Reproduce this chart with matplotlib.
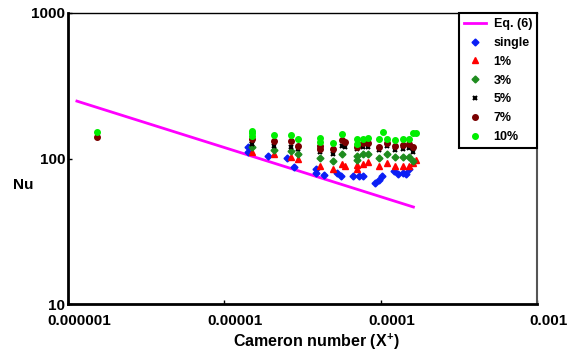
import numpy as np
import matplotlib
matplotlib.use("Agg")
import matplotlib.pyplot as plt
from matplotlib.transforms import ScaledTranslation

plt.rcParams['font.family'] = ['Liberation Sans', 'DejaVu Sans']
plt.rcParams['font.weight'] = 'bold'
plt.rcParams['mathtext.fontset'] = 'custom'
plt.rcParams['mathtext.rm'] = 'Liberation Sans:bold'
plt.rcParams['mathtext.bf'] = 'Liberation Sans:bold'

# Eq. (6) line endpoints
eq_x = [1.14e-6, 1.62e-4]
eq_y = [248, 46.4]

# single
single_x = [1.42e-5, 1.42e-5, 1.90e-5, 2.50e-5, 2.79e-5, 3.88e-5, 3.88e-5, 4.34e-5,
            5.25e-5, 5.56e-5, 6.70e-5, 7.24e-5, 7.76e-5, 9.16e-5, 9.71e-5, 1.026e-4,
            1.21e-4, 1.29e-4, 1.39e-4, 1.45e-4, 1.52e-4]
single_y = [119.9, 110.8, 104.5, 100.8, 87.7, 84.7, 80.1, 76.6,
            80.1, 76.3, 75.8, 75.8, 75.8, 67.9, 71.2, 76.3,
            82.1, 78.3, 80.1, 78.3, 84.3]

# 1%
p1_x = [1.51e-5, 2.08e-5, 2.65e-5, 2.96e-5, 4.12e-5, 4.94e-5, 5.62e-5, 5.94e-5,
        7.08e-5, 7.08e-5, 7.67e-5, 8.31e-5, 9.79e-5, 1.10e-4, 1.236e-4, 1.39e-4,
        1.52e-4, 1.60e-4, 1.69e-4]
p1_y = [110.8, 107.4, 103, 99.2, 89.5, 84.3, 91.6, 89.5,
        90.5, 85.1, 91.6, 94.2, 88.8, 93.1, 88.8, 89.5,
        89.5, 93.1, 97.7]

# 3%
p3_x = [1.51e-5, 2.08e-5, 2.65e-5, 2.96e-5, 4.12e-5, 4.94e-5, 5.62e-5,
        7.08e-5, 7.08e-5, 7.67e-5, 8.31e-5, 9.79e-5, 1.10e-4, 1.236e-4, 1.39e-4,
        1.52e-4, 1.60e-4]
p3_y = [119.9, 114.4, 112.6, 108.2, 100.8, 96.4, 107.4,
        104, 97.6, 108.2, 108.2, 100.8, 108.2, 102.4, 103,
        103, 96.1]

# 5%
p5_x = [1.51e-5, 1.51e-5, 2.08e-5, 2.65e-5, 2.96e-5, 4.12e-5, 4.12e-5, 4.94e-5,
        5.62e-5, 5.94e-5, 7.08e-5, 7.67e-5, 8.31e-5, 9.79e-5, 1.10e-4, 1.236e-4,
        1.39e-4, 1.52e-4, 1.60e-4]
p5_y = [131.9, 125.8, 122.8, 120.9, 116.8, 119.9, 110.8, 108.2,
        122.8, 119.9, 116.8, 119.9, 119.9, 113.8, 122.8, 113.8,
        116.8, 118, 110.8]

# 7%
p7_x = [1.53e-6, 1.51e-5, 2.08e-5, 2.65e-5, 2.96e-5, 4.12e-5, 4.12e-5, 4.94e-5,
        5.62e-5, 5.94e-5, 7.08e-5, 7.67e-5, 8.31e-5, 9.79e-5, 1.10e-4, 1.236e-4,
        1.39e-4, 1.52e-4, 1.60e-4]
p7_y = [141, 136.2, 131.9, 131, 122.8, 122.8, 116.8, 116.8,
        134, 129, 119.9, 127.8, 127, 120.9, 127.8, 122.6,
        124.5, 125.8, 120.9]

# 10%
p10_x = [1.53e-6, 1.51e-5, 1.51e-5, 1.51e-5, 2.08e-5, 2.65e-5, 2.96e-5, 4.12e-5,
         4.12e-5, 4.94e-5, 5.62e-5, 7.08e-5, 7.08e-5, 7.67e-5, 8.31e-5, 9.79e-5,
         1.035e-4, 1.10e-4, 1.236e-4, 1.39e-4, 1.52e-4, 1.60e-4, 1.69e-4]
p10_y = [152, 154.5, 149.7, 142.8, 145, 144, 136.2, 139,
         129, 127.8, 147.5, 136.2, 125.8, 135.8, 139, 135.8,
         153, 135.8, 134, 135.8, 136.2, 149.7, 149.7]

xticks = [1e-6, 1e-5, 1e-4, 1e-3]
xticklabels = ["0.000001", "0.00001", "0.0001", "0.001"]
yticks = [10, 100, 1000]
yticklabels = ["10", "100", "1000"]

fig = plt.figure(figsize=(5.78, 3.56), dpi=100)
ax = fig.add_axes([68 / 578, 1 - 304 / 356, 469 / 578, 291 / 356])

ax.plot(eq_x, eq_y, color="#ff00ff", lw=2, label="Eq. (6)")
ms = 4
ax.plot(single_x, single_y, "D", color="#0a1ef5", ms=3.5, ls="none", label="single")
ax.plot(p1_x, p1_y, "^", color="#ff0000", ms=ms, ls="none", label="1%")
ax.plot(p3_x, p3_y, "D", color="#1e8c1e", ms=3.5, ls="none", label="3%")
ax.plot(p5_x, p5_y, "x", color="black", ms=3.5, mew=1.5, ls="none", label="5%")
ax.plot(p7_x, p7_y, "o", color="#7a0000", ms=ms, ls="none", label="7%")
ax.plot(p10_x, p10_y, "o", color="#00ee00", ms=ms, ls="none", label="10%")

ax.set_xscale("log")
ax.set_yscale("log")
ax.set_xlim(1e-6, 1e-3)
ax.set_ylim(10, 1000)
ax.set_xticks(xticks)
ax.set_xticklabels(xticklabels)
ax.set_yticks(yticks)
ax.set_yticklabels(yticklabels)
ax.minorticks_off()
ax.tick_params(axis="both", direction="in", length=3, width=1, labelsize=11)
ax.tick_params(axis="x", pad=7)
ax.tick_params(axis="y", pad=2)

offset = ScaledTranslation(11 / 100, 0, fig.dpi_scale_trans)
for lab in ax.get_xticklabels():
    lab.set_transform(lab.get_transform() + offset)

ax.spines["left"].set_linewidth(2)
ax.spines["bottom"].set_linewidth(2)
ax.spines["top"].set_linewidth(1)
ax.spines["right"].set_linewidth(1.5)
ax.spines["right"].set_color("#555555")

ax.set_xlabel(r"Cameron number (X$^{+}$)", fontsize=11.5, fontweight="bold", labelpad=2)
ax.xaxis.set_label_coords(0.53, -0.095)
ax.xaxis.label.set_va("top")
ax.set_ylabel("Nu", fontsize=11, fontweight="bold", rotation=0, ha="center", va="center")
ax.yaxis.set_label_coords(-0.096, 0.409)

leg = ax.legend(loc="upper right", borderaxespad=0, fancybox=False, framealpha=1,
                edgecolor="black", prop={"size": 9, "weight": "bold"},
                labelspacing=0.55, handlelength=1.8, handletextpad=0.6,
                borderpad=0.4)
leg.get_frame().set_linewidth(1.5)

fig.savefig("out.png", dpi=100)
